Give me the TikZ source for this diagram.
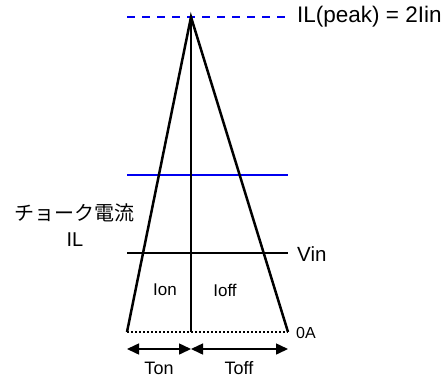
\documentclass[tikz,border=0pt]{standalone}
\usepackage{fontspec}
\setmainfont{Liberation Sans}
\newfontfamily\cjk{Noto Sans CJK JP}
\usetikzlibrary{arrows.meta}
\definecolor{lineblue}{RGB}{0,0,240}
\begin{document}
\begin{tikzpicture}[x=1pt,y=-1pt,
  thick line/.style={line width=2.5pt},
  thin line/.style={line width=1.1pt},
  blue line/.style={draw=lineblue,line width=1.3pt},
  lbl/.style={inner sep=0pt,anchor=west},
  dim/.style={line width=1.5pt,{Triangle[length=12pt,width=11pt]}-{Triangle[length=12pt,width=11pt]}}]
\useasboundingbox (0,0) rectangle (446,378);
\coordinate (peak) at (191,17);
\coordinate (bl) at (127,332);
\coordinate (br) at (288,332);
\coordinate (bc) at (191,332);
\coordinate (pl) at (127,17);
\coordinate (pr) at (288,17);
\coordinate (bluel) at (127,175);
\coordinate (bluer) at (288,175);
\coordinate (vinl) at (127,253);
\coordinate (vinr) at (288,253);
\coordinate (al) at (127,349);
\coordinate (ac) at (191,349);
\coordinate (ar) at (288,349);
% dashed peak line
\draw[blue line,dash pattern=on 8pt off 7pt] (pl) -- (pr);
% blue level
\draw[blue line] (bluel) -- (bluer);
% Vin level
\draw[black,thin line] (vinl) -- (vinr);
% centre line
\draw[thin line] (peak) -- (bc);
% triangle
\draw[thick line,line join=miter] (bl) -- (peak) -- (br);
% base dotted
\draw[thin line,dash pattern=on 2pt off 2pt] (bl) -- (br);
% dims
\draw[dim] (al) -- (ac);
\draw[dim] (ac) -- (ar);
% labels
\node[lbl,font=\fontsize{22.5}{24}\selectfont] (peaklbl) at (297,17) {IL(peak) = 2Iin};
\node[lbl,font=\fontsize{20.5}{22}\selectfont] (vinlbl) at (297,254) {Vin};
\node[lbl,font=\fontsize{16}{18}\selectfont] (zero) at (296,333) {0A};
\node[inner sep=0pt,font=\fontsize{17}{19}\selectfont] (ion) at (165,290) {Ion};
\node[inner sep=0pt,font=\fontsize{17}{19}\selectfont] (ioff) at (225,290) {Ioff};
\node[inner sep=0pt,font=\fontsize{18}{20}\selectfont] (ton) at (159,368) {Ton};
\node[inner sep=0pt,font=\fontsize{18}{20}\selectfont] (toff) at (239,368) {Toff};
\node[inner sep=0pt,font=\fontsize{20}{22}\selectfont\cjk] (choke) at (74,213) {チョーク電流};
\node[inner sep=0pt,font=\fontsize{20}{22}\selectfont] (il) at (75,240) {IL};
\end{tikzpicture}
\end{document}
